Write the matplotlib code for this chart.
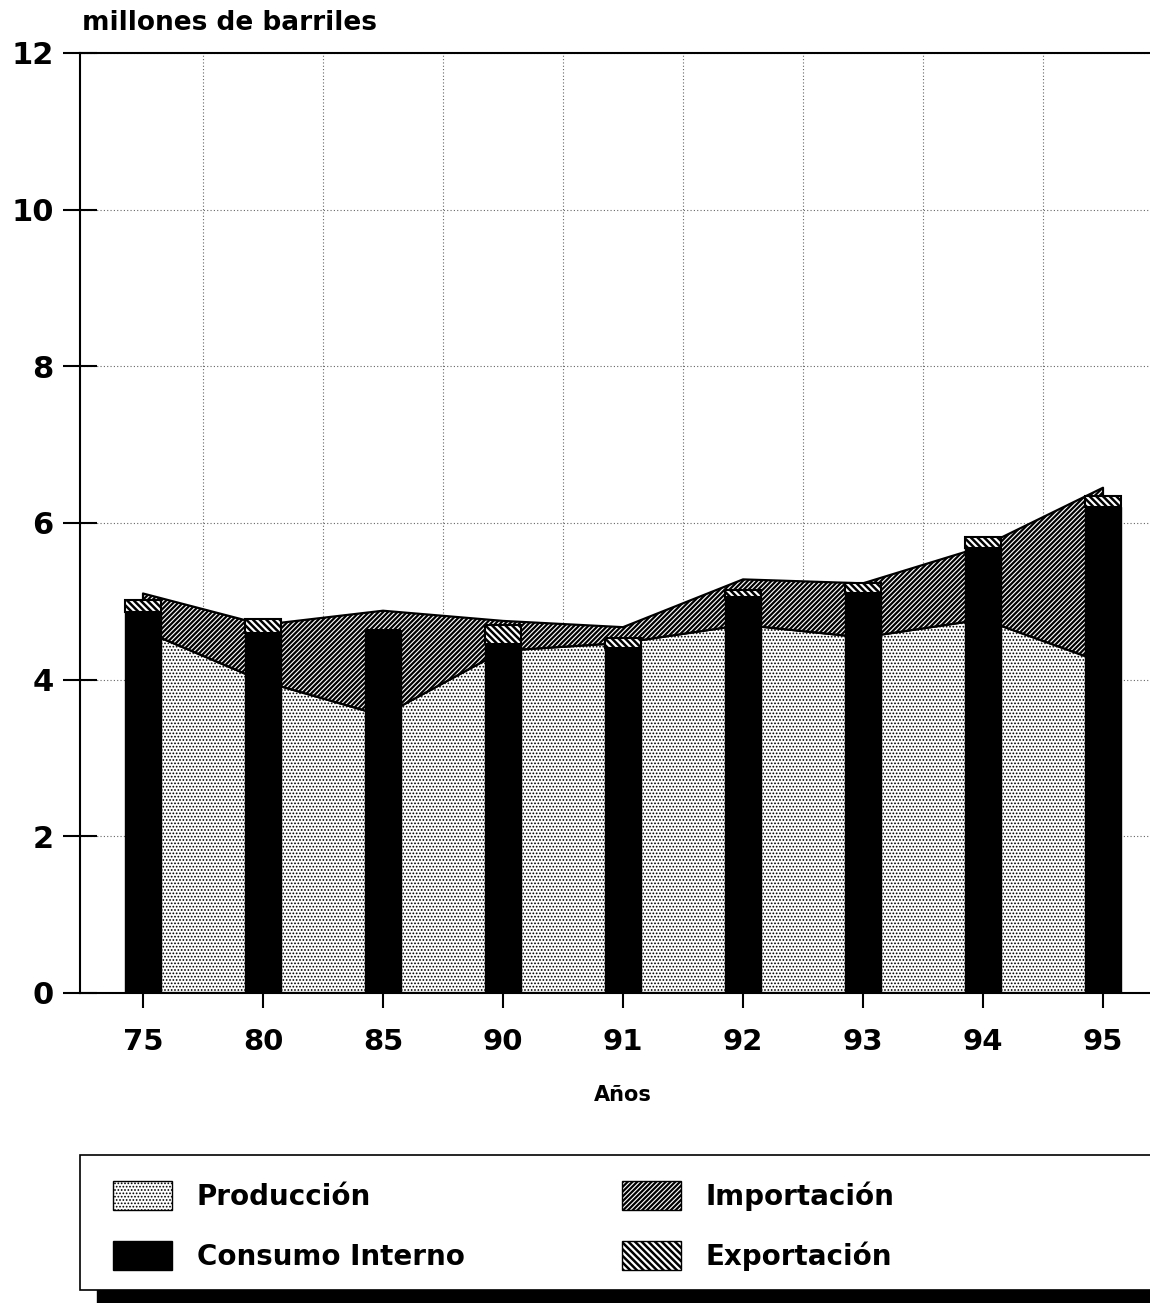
import matplotlib
matplotlib.use('Agg')
import matplotlib.pyplot as plt
import numpy as np
from matplotlib.patches import Patch, Rectangle

# ---- data ----
years = ['75', '80', '85', '90', '91', '92', '93', '94', '95']
produccion = [4.63, 3.98, 3.54, 4.37, 4.47, 4.70, 4.54, 4.77, 4.22]
importacion = [0.47, 0.72, 1.34, 0.38, 0.20, 0.58, 0.69, 0.93, 2.23]
consumo = [4.87, 4.60, 4.63, 4.46, 4.40, 5.05, 5.11, 5.68, 6.21]
exportacion = [0.15, 0.18, 0.0, 0.24, 0.13, 0.09, 0.12, 0.14, 0.13]
y_ticks = [0, 2, 4, 6, 8, 10, 12]
legend_labels = ['Producción', 'Consumo Interno', 'Importación', 'Exportación']
y_title = 'millones de barriles'
x_title = 'Años'

plt.rcParams['font.family'] = ['DejaVu Sans']
plt.rcParams['font.weight'] = 'bold'
plt.rcParams['hatch.color'] = 'black'

W, H = 1150, 1303
fig = plt.figure(figsize=(W / 100, H / 100), dpi=100)
ax = fig.add_axes([80 / W, 1 - 993 / H, 1 - 80 / W, (993 - 53) / H])

x = np.arange(len(years))
prod = np.array(produccion)
total = prod + np.array(importacion)

HATCH_PROD = '.....'
HATCH_IMP = '///////'
HATCH_EXP = '\\\\\\\\\\'

LW_PROD, LW_IMP, LW_EXP = 0.8, 1.6, 1.8


def set_hlw(artist, w):
    """Give an artist its own hatch line width at draw time."""
    if hasattr(artist, 'set_hatch_linewidth'):
        try:
            artist.set_hatch_linewidth(w)
        except Exception:
            pass
    orig = artist.draw

    def draw(renderer, *args, **kwargs):
        with plt.rc_context({'hatch.linewidth': w}):
            return orig(renderer, *args, **kwargs)
    artist.draw = draw


a1 = ax.fill_between(x, 0, prod, facecolor='white', edgecolor='black',
                     hatch=HATCH_PROD, linewidth=1.6, zorder=2)
set_hlw(a1, LW_PROD)
a2 = ax.fill_between(x, prod, total, facecolor='white', edgecolor='black',
                     hatch=HATCH_IMP, linewidth=1.6, zorder=2)
set_hlw(a2, LW_IMP)

bars1 = ax.bar(x, consumo, width=0.3, color='black', edgecolor='black',
               linewidth=1.0, zorder=3)
bars2 = ax.bar(x, exportacion, bottom=consumo, width=0.3, facecolor='white',
               edgecolor='black', hatch=HATCH_EXP, linewidth=1.5, zorder=3)
for b in bars2:
    set_hlw(b, LW_EXP)

# axes styling
ax.set_xlim(-0.525, (W - 143) / 120)
ax.set_ylim(0, 12)
ax.set_yticks(y_ticks)
ax.set_yticklabels([str(v) for v in y_ticks])
ax.set_xticks(x)
ax.set_xticklabels(years)
ax.set_xticks(x[:-1] + 0.5, minor=True)

ax.tick_params(axis='y', direction='inout', length=24, width=1.5,
               labelsize=22, pad=7)
ax.tick_params(axis='x', which='major', direction='out', length=11, width=1.5,
               labelsize=21, pad=14)
ax.tick_params(axis='x', which='minor', length=0)

ax.set_axisbelow(True)
ax.yaxis.grid(True, linestyle=(0, (1, 2)), color='#666666', linewidth=0.8)
ax.xaxis.grid(True, which='minor', linestyle=(0, (1, 2)), color='#666666',
              linewidth=0.8)
ax.xaxis.grid(False, which='major')

for s in ['left', 'bottom', 'top']:
    ax.spines[s].set_linewidth(1.5)
    ax.spines[s].set_color('black')
ax.spines['right'].set_visible(False)

fig.text(82 / W, 1 - 23 / H, y_title, fontsize=19, fontweight='bold',
         ha='left', va='center')
fig.text(623 / W, 1 - 1095 / H, x_title, fontsize=15, fontweight='bold',
         ha='center', va='center')

# legend frame with bottom shadow
shadow = Rectangle((97 / W, 1 - 1310 / H), (W + 20 - 97) / W, (1310 - 1170) / H,
                   transform=fig.transFigure, facecolor='black',
                   edgecolor='black', zorder=0)
frame = Rectangle((80 / W, 1 - 1290 / H), (W + 20 - 80) / W, (1290 - 1155) / H,
                  transform=fig.transFigure, facecolor='white',
                  edgecolor='black', linewidth=1.2, zorder=1)
fig.patches.extend([shadow, frame])

h_prod = Patch(facecolor='white', edgecolor='black', hatch=HATCH_PROD,
               linewidth=1.0)
h_cons = Patch(facecolor='black', edgecolor='black', linewidth=1.0)
h_imp = Patch(facecolor='white', edgecolor='black', hatch=HATCH_IMP,
              linewidth=1.0)
h_exp = Patch(facecolor='white', edgecolor='black', hatch=HATCH_EXP,
              linewidth=1.0)

leg_kw = dict(frameon=False, handlelength=2.12, handleheight=1.25,
              handletextpad=0.9, labelspacing=1.07, borderpad=0,
              borderaxespad=0, loc='upper left',
              prop={'weight': 'bold', 'size': 20})
leg1 = fig.legend([h_prod, h_cons], legend_labels[:2],
                  bbox_to_anchor=(113 / W, 1 - 1181 / H), **leg_kw)
leg2 = fig.legend([h_imp, h_exp], legend_labels[2:],
                  bbox_to_anchor=(622 / W, 1 - 1181 / H), **leg_kw)
for lg in (leg1, leg2):
    lg.set_zorder(5)

hw = {'Producción': LW_PROD, 'Importación': LW_IMP, 'Exportación': LW_EXP}
for lg in (leg1, leg2):
    handles = getattr(lg, 'legend_handles', None) or getattr(lg, 'legendHandles', [])
    for hnd, txt in zip(handles, lg.get_texts()):
        if txt.get_text() in hw:
            set_hlw(hnd, hw[txt.get_text()])

fig.savefig('out.png', dpi=100)
